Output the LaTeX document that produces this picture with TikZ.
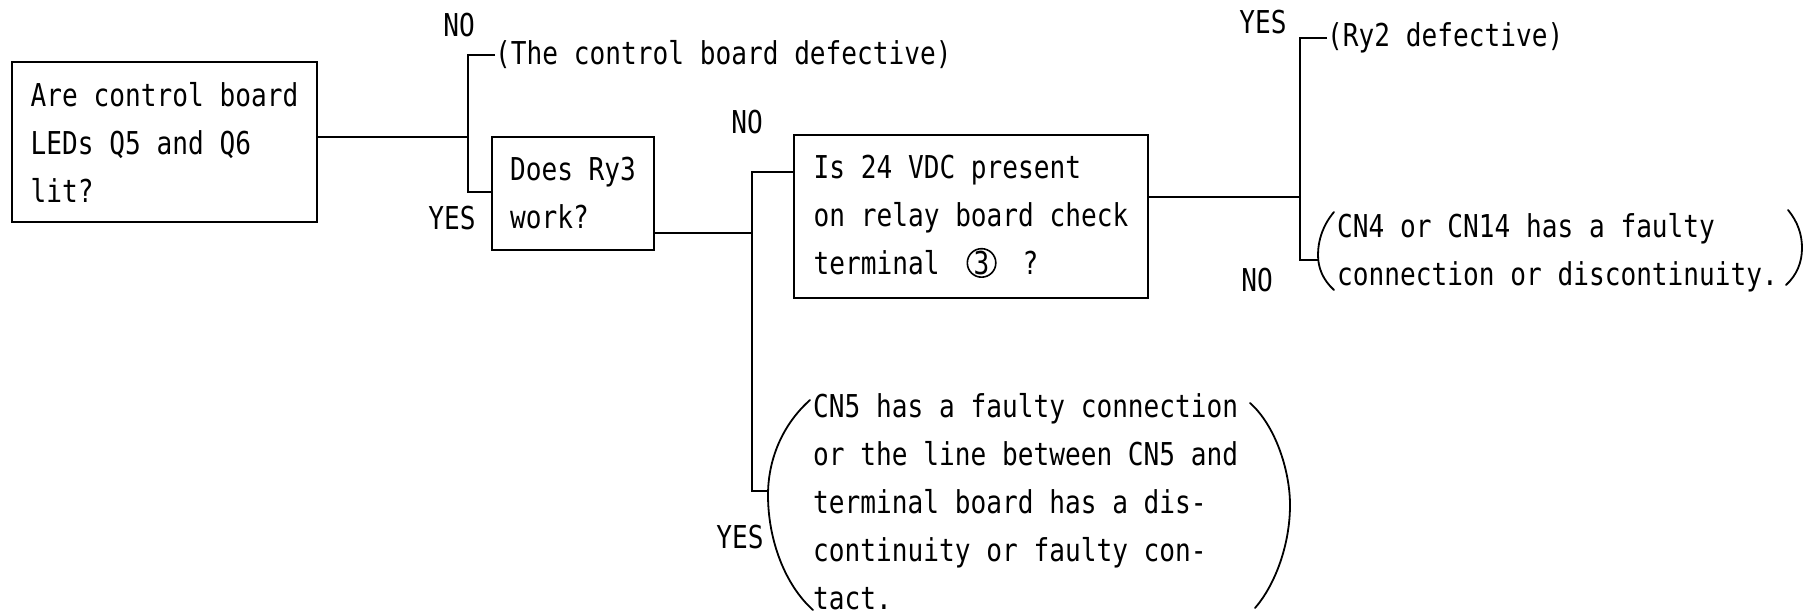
\documentclass[tikz,border=0pt]{standalone}
\usepackage{fontspec}
\newfontfamily\lgfont[FakeStretch=0.83]{DejaVu Sans Mono}
\newcommand\circthree{\tikz[baseline=(cc.base)]\node[draw,circle,line width=1.6pt,inner sep=0pt,minimum size=24pt](cc){3};}
\tikzset{
  txt/.style={font=\lgfont\fontsize{31.5}{48}\selectfont, inner sep=0pt, align=left},
  qbox/.style={txt, draw, line width=2pt},
  ln/.style={line width=2pt},
  pl/.style={line width=1.8pt, line cap=round},
}
\begin{document}
\begin{tikzpicture}[x=1pt,y=-1pt]
\useasboundingbox (0,0) rectangle (1816,615);
% boxes
\node[qbox, minimum width=305pt, minimum height=160pt] (b1) at (164.5,142)
  {Are control board\\LEDs Q5 and Q6\\lit?};
\node[qbox, minimum width=162pt, minimum height=113pt] (b2) at (573,193.5)
  {Does Ry3\\work?};
\node[qbox, minimum width=354pt, minimum height=163pt] (b3) at (971,216.5)
  {Is 24 VDC present\\on relay board check\\terminal\hspace{27pt}\circthree\hspace{26pt}?};
% outcome texts
\node[txt, anchor=west] (t1) at (495,55) {(The control board defective)};
\node[txt, anchor=west] (t2) at (1327,38) {(Ry2 defective)};
\node[txt, anchor=west] (t3) at (1337,253) {CN4 or CN14 has a faulty\\connection or discontinuity.};
\node[txt, anchor=west] (t4) at (813,502) {CN5 has a faulty connection\\or the line between CN5 and\\terminal board has a dis-\\continuity or faulty con-\\tact.};
% labels
\node[txt] (no1) at (459,25) {NO};
\node[txt] (yes1) at (452,218) {YES};
\node[txt] (no2) at (747,122) {NO};
\node[txt] (yes2) at (740,537) {YES};
\node[txt] (yes3) at (1263,22) {YES};
\node[txt] (no3) at (1257,280) {NO};
% junction coordinates
\coordinate (ja) at (468,137);
\coordinate (jb) at (468,192);
\coordinate (jc) at (752,233);
\coordinate (jd) at (752,172);
\coordinate (je) at (752,491);
\coordinate (p4l) at (769,491);
\coordinate (jf) at (1300,197);
\coordinate (jg) at (1300,260);
\coordinate (p3l) at (1318,260);
% connectors
\draw[ln] (ja -| b1.east) -- (ja);
\draw[ln] (t1.west) -| (jb) -- (jb -| b2.west);
\draw[ln] (jc -| b2.east) -- (jc);
\draw[ln] (jd -| b3.west) -- (jd) -- (je) -- (p4l);
\draw[ln] (jf -| b3.east) -- (jf);
\draw[ln] (t2.west) -| (jg) -- (p3l);
% large parentheses
\draw[pl] (810,400) .. controls (782,425) and (768,460) .. (768,495) .. controls (768,540) and (785,585) .. (813,610);
\draw[pl] (1250,403) .. controls (1275,425) and (1290,470) .. (1290,505) .. controls (1290,545) and (1275,585) .. (1255,608);
\draw[pl] (1334,212) .. controls (1323,225) and (1318,240) .. (1318,255) .. controls (1318,268) and (1323,280) .. (1334,290);
\draw[pl] (1788,210) .. controls (1798,222) and (1802,235) .. (1802,248) .. controls (1802,262) and (1797,275) .. (1786,285);
\end{tikzpicture}
\end{document}
